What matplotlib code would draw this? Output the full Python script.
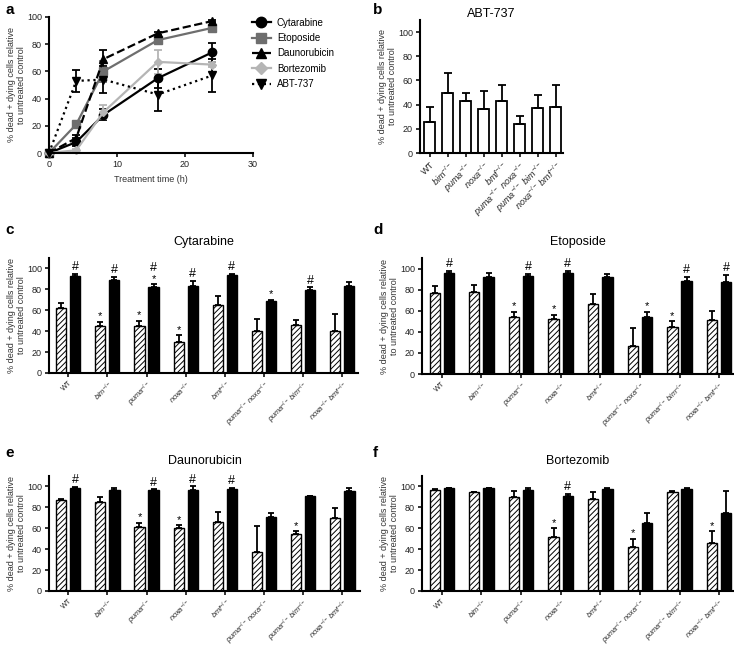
import matplotlib
matplotlib.use("Agg")
import matplotlib.pyplot as plt
from matplotlib.lines import Line2D
import numpy as np

plt.rcParams['font.family'] = ['Liberation Sans', 'DejaVu Sans']
plt.rcParams['mathtext.fontset'] = 'custom'
plt.rcParams['mathtext.rm'] = 'Liberation Sans'
plt.rcParams['mathtext.it'] = 'Liberation Sans:italic'
plt.rcParams['hatch.linewidth'] = 0.7

# ---- panel a: time course ----
times = [0, 4, 8, 16, 24]
cyt = [0, 8, 28, 55, 74]
cyt_err = [0, 3, 4, 7, 7]
eto = [0, 21, 60, 83, 92]
eto_err = [0, 2, 8, 2, 2]
dau = [0, 11, 69, 88, 97]
dau_err = [0, 2, 7, 1, 1]
bor = [0, 2, 30, 67, 65]
bor_err = [0, 1, 5, 9, 2]
abt = [0, 53, 54, 43, 57]
abt_err = [0, 8, 10, 12, 12]

# ---- genotypes ----
genos = ['WT', r'$\it{bim}^{-/-}$', r'$\it{puma}^{-/-}$', r'$\it{noxa}^{-/-}$',
         r'$\it{bmf}^{-/-}$', r'$\it{puma}^{-/-}$ $\it{noxa}^{-/-}$',
         r'$\it{puma}^{-/-}$ $\it{bim}^{-/-}$', r'$\it{noxa}^{-/-}$ $\it{bmf}^{-/-}$']

# ---- panel b: ABT-737 ----
abt_b = [26, 50, 43, 36, 43, 24, 37, 38]
abt_b_err = [12, 16, 7, 15, 13, 7, 11, 18]

# ---- panels c-f: (hatched, solid) ----
cyt_h = [62, 45, 45, 30, 65, 40, 46, 40]
cyt_h_err = [5, 4, 5, 6, 9, 12, 5, 16]
cyt_s = [93, 89, 82, 83, 94, 69, 79, 83]
cyt_s_err = [2, 3, 3, 5, 1, 1, 3, 4]
cyt_h_mark = ['', '*', '*', '*', '', '', '', '']
cyt_s_mark = ['#', '#', '#*', '#', '#', '*', '#', '']

eto_h = [77, 78, 54, 52, 66, 27, 45, 51]
eto_h_err = [6, 6, 5, 4, 10, 17, 5, 9]
eto_s = [96, 92, 93, 96, 92, 54, 88, 87]
eto_s_err = [2, 4, 2, 2, 3, 5, 4, 7]
eto_h_mark = ['', '', '*', '*', '', '', '*', '']
eto_s_mark = ['#', '', '#', '#', '', '*', '#', '#']

dau_h = [87, 85, 61, 60, 66, 37, 55, 70]
dau_h_err = [1, 5, 4, 3, 10, 25, 2, 9]
dau_s = [99, 97, 97, 97, 98, 71, 91, 96]
dau_s_err = [0.5, 2, 0.5, 3, 1, 4, 0, 3]
dau_h_mark = ['', '', '*', '*', '', '', '*', '']
dau_s_mark = ['#', '', '#', '#', '#', '', '', '']

bor_h = [97, 95, 90, 52, 88, 42, 95, 46]
bor_h_err = [1, 0, 6, 8, 7, 8, 1, 11]
bor_s = [99, 99, 97, 91, 98, 65, 98, 75]
bor_s_err = [0, 0, 2, 2, 1, 10, 1, 21]
bor_h_mark = ['', '', '', '*', '', '*', '', '*']
bor_s_mark = ['', '', '', '#', '', '', '', '']

W, H = 734, 648
fig = plt.figure(figsize=(W / 100, H / 100), dpi=100)


def px_axes(l, t, r, b):
    return fig.add_axes([l / W, 1 - b / H, (r - l) / W, (b - t) / H])


def style(ax):
    for s in ['top', 'right']:
        ax.spines[s].set_visible(False)
    for s in ['left', 'bottom']:
        ax.spines[s].set_linewidth(1.5)
    ax.tick_params(width=1.3, length=3, labelsize=6.5, colors='#222', pad=2)
    ax.set_ylabel('% dead + dying cells relative\nto untreated control',
                  fontsize=6.5, color='#333', labelpad=1, linespacing=1.1)


# panel a
ax = px_axes(49, 17, 253, 153)
style(ax)
series = [(cyt, cyt_err, 'Cytarabine', 'black', 'o', '-'),
          (eto, eto_err, 'Etoposide', '#6e6e6e', 's', '-'),
          (dau, dau_err, 'Daunorubicin', 'black', '^', '--'),
          (bor, bor_err, 'Bortezomib', '#b5b5b5', 'D', '-'),
          (abt, abt_err, 'ABT-737', 'black', 'v', ':')]
handles = []
for y, e, lab, col, mk, ls in series:
    ms = 6 if mk != 'D' else 4.5
    ax.errorbar(times, y, yerr=e, color=col, marker=mk, ls=ls, lw=1.6,
                ms=ms, capsize=3, elinewidth=1.3, capthick=1.3, clip_on=False)
    handles.append(Line2D([], [], color=col, marker=mk, ls=ls, lw=1.6,
                          ms=ms + 1.5, label=lab))
ax.set_xlim(0, 30)
ax.set_ylim(0, 100)
ax.set_xticks([0, 10, 20, 30])
ax.set_yticks([0, 20, 40, 60, 80, 100])
ax.set_xlabel('Treatment time (h)', fontsize=6.5, color='#333')
ax.legend(handles=handles, loc='upper left', bbox_to_anchor=(0.95, 1.06),
          frameon=False, fontsize=7, handlelength=2.0, labelspacing=0.55,
          handletextpad=0.6)
fig.text(5 / W, 1 - 10 / H, 'a', fontsize=11, fontweight='bold', va='center')

# panel b
ax = px_axes(420, 20, 563, 153)
style(ax)
xb = np.arange(len(genos))
ax.bar(xb, abt_b, width=0.62, color='white', edgecolor='black', lw=1.3)
ax.errorbar(xb, abt_b, yerr=[np.zeros(len(xb)), abt_b_err], fmt='none',
            ecolor='black', elinewidth=1.3, capsize=3, capthick=1.3)
ax.set_xlim(-0.55, 7.4)
ax.set_ylim(0, 110)
ax.set_yticks([0, 20, 40, 60, 80, 100])
ax.set_xticks(xb)
ax.set_xticklabels(genos, rotation=45, ha='right', rotation_mode='anchor',
                   fontsize=6.5)
ax.set_title('ABT-737', fontsize=9, pad=1)
fig.text(373 / W, 1 - 10 / H, 'b', fontsize=11, fontweight='bold', va='center')


def pair_panel(box, xlim, h, he, s, se, hm, sm, title, letter, lpos):
    ax = px_axes(*box)
    style(ax)
    x = np.arange(len(genos))
    w = 0.26
    off = 0.18
    ax.bar(x - off, h, width=w, color='white', edgecolor='black', hatch='//////',
           lw=1.0)
    ax.bar(x + off, s, width=w, color='black', edgecolor='black', lw=1.0)
    z = np.zeros(len(x))
    ax.errorbar(x - off, h, yerr=[z, he], fmt='none', ecolor='black',
                elinewidth=1.3, capsize=2.5, capthick=1.3)
    ax.errorbar(x + off, s, yerr=[z, se], fmt='none', ecolor='black',
                elinewidth=1.3, capsize=2.5, capthick=1.3)
    for xi, v, e, m in zip(x - off, h, he, hm):
        if m:
            ax.text(xi, v + e + 0.5, m, ha='center', va='bottom', fontsize=8)
    for xi, v, e, m in zip(x + off, s, se, sm):
        base = v + e + 0.5
        if '*' in m:
            ax.text(xi, base, '*', ha='center', va='bottom', fontsize=8)
            base += 9
        if '#' in m:
            ax.text(xi, base, '#', ha='center', va='bottom', fontsize=9)
    ax.set_xlim(*xlim)
    ax.set_ylim(0, 110)
    ax.set_yticks([0, 20, 40, 60, 80, 100])
    ax.set_xticks(x)
    ax.set_xticklabels(genos, rotation=45, ha='right', rotation_mode='anchor',
                       fontsize=5.3)
    ax.tick_params(axis='x', pad=1.5)
    ax.set_title(title, fontsize=9, pad=9)
    fig.text(lpos[0] / W, 1 - lpos[1] / H, letter, fontsize=11,
             fontweight='bold', va='center')


pair_panel((49, 258, 358, 373), (-0.49, 7.4), cyt_h, cyt_h_err, cyt_s, cyt_s_err,
           cyt_h_mark, cyt_s_mark, 'Cytarabine', 'c', (5, 230))
pair_panel((422, 258, 733, 374), (-0.5, 7.35), eto_h, eto_h_err, eto_s, eto_s_err,
           eto_h_mark, eto_s_mark, 'Etoposide', 'd', (373, 230))
pair_panel((49, 476, 360, 591), (-0.49, 7.45), dau_h, dau_h_err, dau_s, dau_s_err,
           dau_h_mark, dau_s_mark, 'Daunorubicin', 'e', (5, 453))
pair_panel((422, 476, 733, 591), (-0.5, 7.35), bor_h, bor_h_err, bor_s, bor_s_err,
           bor_h_mark, bor_s_mark, 'Bortezomib', 'f', (373, 453))

fig.savefig('out.png', dpi=100, facecolor='white')
